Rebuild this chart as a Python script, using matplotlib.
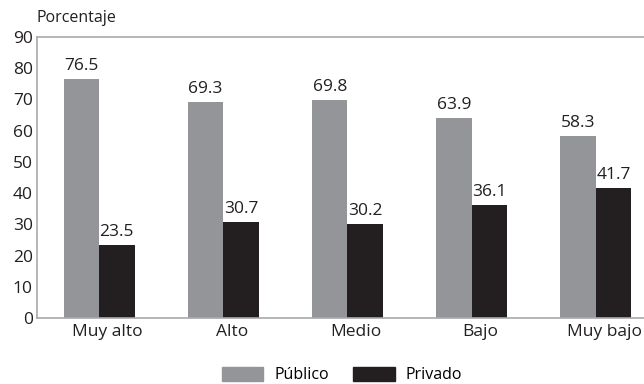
import matplotlib
matplotlib.use("Agg")
import matplotlib.pyplot as plt
import numpy as np
from matplotlib.patches import Patch

categories = ["Muy alto", "Alto", "Medio", "Bajo", "Muy bajo"]
publico = [76.5, 69.3, 69.8, 63.9, 58.3]
privado = [23.5, 30.7, 30.2, 36.1, 41.7]
y_ticks = [0, 10, 20, 30, 40, 50, 60, 70, 80, 90]

plt.rcParams["font.family"] = ["Open Sans", "DejaVu Sans"]

GRAY = "#939598"
DARK = "#231f20"
SPINE = "#a7a9ac"
TEXT = "#231f20"

fig = plt.figure(figsize=(6.44, 3.84), dpi=100)
ax = fig.add_axes([37 / 644, 66 / 384, 1 - 37 / 644 + 0.01, (318 - 37) / 384])

x = np.arange(len(categories))
w = 0.286
b1 = ax.bar(x - w / 2, publico, w, color=GRAY, label="Público")
b2 = ax.bar(x + w / 2, privado, w, color=DARK, label="Privado")

for bars, vals in ((b1, publico), (b2, privado)):
    for r, v in zip(bars, vals):
        ax.text(r.get_x() + r.get_width() / 2, v + 1.6, f"{v:.1f}",
                ha="center", va="bottom", fontsize=12.5, color=TEXT)

ax.set_xlim(-0.5, 4.44)
ax.set_ylim(0, 90)
ax.set_yticks(y_ticks)
ax.set_xticks(x + 0.07)
ax.set_xticklabels(categories)
ax.tick_params(axis="both", length=0, labelsize=12.5, colors=TEXT)
ax.tick_params(axis="x", pad=4)
ax.tick_params(axis="y", pad=3)

for side in ("left", "top", "bottom"):
    ax.spines[side].set_color(SPINE)
    ax.spines[side].set_linewidth(1.2)
ax.spines["right"].set_visible(False)

fig.text(37 / 644, 1 - 18 / 384, "Porcentaje", fontsize=11.5, color=TEXT,
         ha="left", va="center")

handles = [Patch(color=GRAY, label="Público"), Patch(color=DARK, label="Privado")]
fig.legend(handles=handles, loc="center", bbox_to_anchor=(342 / 644, 1 - 375 / 384),
           ncol=2, frameon=False, fontsize=11.5, handlelength=2.6, handleheight=1.0,
           columnspacing=1.5, handletextpad=0.7, borderpad=0)

fig.savefig("out.png", dpi=100)
